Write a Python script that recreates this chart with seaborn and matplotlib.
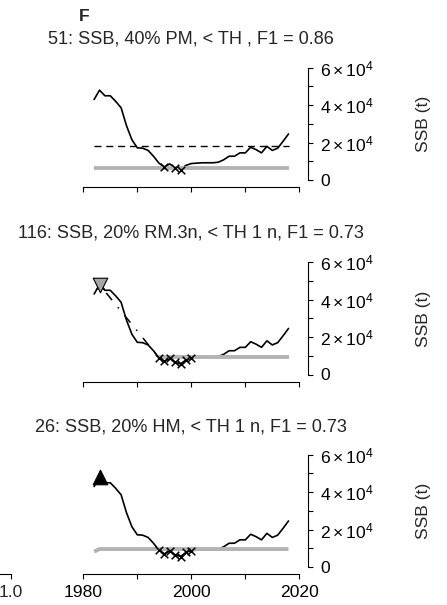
import matplotlib
matplotlib.use("Agg")
import matplotlib.pyplot as plt
import seaborn as sns
import pandas as pd

# Spawning stock biomass series (t)
years = list(range(1982, 2019))
ssb = [43000, 48000, 45000, 45000, 42000, 38600, 29000, 21500, 17200, 17000,
       15800, 12700, 9000, 7000, 8600, 6500, 5600, 7800, 8800, 9000,
       9200, 9200, 9200, 9500, 10800, 12700, 12700, 14500, 14500, 17500,
       16200, 14500, 18000, 15800, 17000, 20700, 24600]

# Panel-specific reference levels and flagged years
panel_titles = ["51: SSB, 40% PM, < TH , F1 = 0.86",
                "116: SSB, 20% RM.3n, < TH 1 n, F1 = 0.73",
                "26: SSB, 20% HM, < TH 1 n, F1 = 0.73"]
ref_level_top = 18400
thresh_top_years = [1982, 2018]
thresh_top = [6600, 6600]
thresh_mid_years = [1994, 2018]
thresh_mid = [9600, 9600]
thresh_bot_years = [1982, 1983, 2018]
thresh_bot = [8200, 9600, 9600]
flag_top = [1995, 1997, 1998]
flag_low = [1994, 1995, 1996, 1997, 1998, 1999, 2000]
peak_year = 1983

y_ticks = [0, 10000, 20000, 30000, 40000, 50000, 60000]
y_ticklabels = ["0", "", r"$2\times10^4$", "", r"$4\times10^4$", "", r"$6\times10^4$"]
x_ticks = [1980, 1990, 2000, 2010, 2020]
x_ticklabels = ["1980", "", "2000", "", "2020"]

sns.set_theme(style="white")
plt.rcParams["font.family"] = ["Liberation Sans", "DejaVu Sans"]
plt.rcParams["mathtext.fontset"] = "custom"
plt.rcParams["mathtext.rm"] = "Liberation Sans"
plt.rcParams["mathtext.it"] = "Liberation Sans:italic"
plt.rcParams["mathtext.bf"] = "Liberation Sans:bold"

W, H = 447, 605
FS = 12.6
FS_TITLE = 13.1
fig = plt.figure(figsize=(W / 100, H / 100), dpi=100)

df = pd.DataFrame({"year": years, "ssb": ssb})
ssb_of = dict(zip(years, ssb))

X0, X1 = 1978.4, 2021.6
PX_L, PX_R = 74.66, 307.94
YMIN, YMAX = -4000, 64000
PX_PER_UNIT = 112.3 / 60000


def make_axes(zero_px):
    bottom_px = zero_px - YMIN * PX_PER_UNIT
    top_px = zero_px - YMAX * PX_PER_UNIT
    ax = fig.add_axes([PX_L / W, 1 - bottom_px / H, (PX_R - PX_L) / W,
                       (bottom_px - top_px) / H])
    fig.text(423.3 / W, 1 - (zero_px - 30000 * PX_PER_UNIT) / H, "SSB (t)",
             rotation=90, ha="center", va="center", fontsize=FS)
    return ax


def style_axes(ax):
    ax.set_xlim(X0, X1)
    ax.set_ylim(YMIN, YMAX)
    ax.patch.set_alpha(0)
    for s in ("left", "top"):
        ax.spines[s].set_visible(False)
    for s in ("right", "bottom"):
        ax.spines[s].set_color("black")
        ax.spines[s].set_linewidth(0.8)
    ax.spines["right"].set_bounds(0, 60000)
    ax.spines["bottom"].set_bounds(1980, 2020)
    ax.yaxis.tick_right()
    ax.set_yticks(y_ticks)
    ax.set_yticklabels(y_ticklabels)
    ax.set_xticks(x_ticks)
    ax.tick_params(axis="x", bottom=True, top=False)
    ax.tick_params(axis="y", right=True, left=False)
    ax.tick_params(axis="both", direction="out", length=3.8, width=0.8,
                   color="black", labelsize=FS, labelcolor="black")
    ax.tick_params(axis="y", pad=5)
    ax.tick_params(axis="x", pad=3.5)
    ax.set_xlabel("")
    ax.set_ylabel("")
    leg = ax.get_legend()
    if leg is not None:
        leg.remove()


def ssb_line(ax):
    sns.lineplot(data=df, x="year", y="ssb", ax=ax, color="black",
                 linewidth=1.2, zorder=2)


def thresh_line(ax, yrs, vals):
    sns.lineplot(x=yrs, y=vals, ax=ax, color="#b3b3b3", linewidth=2.8,
                 zorder=3, solid_capstyle="butt")


def flags(ax, yrs):
    sns.scatterplot(x=yrs, y=[ssb_of[y] for y in yrs], ax=ax, marker="x",
                    color="black", s=30, linewidth=1.1, zorder=4)


def title(text, baseline_px):
    fig.text(PX_L / W + (PX_R - PX_L) / 2 / W, 1 - baseline_px / H, text,
             ha="center", va="baseline", fontsize=FS_TITLE)


# Top panel
ax1 = make_axes(180.0)
ssb_line(ax1)
sns.lineplot(x=[years[0], years[-1]], y=[ref_level_top, ref_level_top], ax=ax1,
             color="black", linewidth=1.0, linestyle=(0, (5, 3.5)), zorder=2)
thresh_line(ax1, thresh_top_years, thresh_top)
flags(ax1, flag_top)
style_axes(ax1)
ax1.set_xticklabels([""] * len(x_ticks))
title(panel_titles[0], 43.5)
fig.text(79 / W, 1 - 20.7 / H, "F", ha="left", va="baseline", fontsize=FS,
         fontweight="bold")

# Middle panel
ax2 = make_axes(374.5)
ssb_line(ax2)
sns.lineplot(x=[peak_year, flag_low[0]], y=[ssb_of[peak_year], ssb_of[flag_low[0]]],
             ax=ax2, color="black", linewidth=1.1, linestyle=(0, (1, 6, 6, 6)),
             zorder=2)
thresh_line(ax2, thresh_mid_years, thresh_mid)
flags(ax2, [peak_year] + flag_low)
sns.scatterplot(x=[peak_year], y=[ssb_of[peak_year]], ax=ax2, marker="v",
                color="#a6a6a6", edgecolor="black", linewidth=0.8, s=110, zorder=5)
style_axes(ax2)
ax2.set_xticklabels([""] * len(x_ticks))
title(panel_titles[1], 237.3)

# Bottom panel
ax3 = make_axes(567.0)
ssb_line(ax3)
thresh_line(ax3, thresh_bot_years, thresh_bot)
flags(ax3, flag_low)
sns.scatterplot(x=[peak_year], y=[ssb_of[peak_year]], ax=ax3, marker="^",
                color="black", edgecolor="black", linewidth=0.8, s=110, zorder=5)
style_axes(ax3)
ax3.set_xticklabels(x_ticklabels)
title(panel_titles[2], 431.7)

# Edge of the neighbouring panel on the left
pos = ax3.get_position()
axl = fig.add_axes([-200 / W, pos.y0, 219 / W, pos.height])
axl.set_xlim(-0.04, 1.04)
axl.set_ylim(0, 1)
axl.patch.set_alpha(0)
for s in ("left", "top", "right"):
    axl.spines[s].set_visible(False)
axl.spines["bottom"].set_color("black")
axl.spines["bottom"].set_linewidth(0.8)
axl.spines["bottom"].set_bounds(0, 1.0)
axl.set_yticks([])
axl.set_xticks([1.0])
axl.set_xticklabels(["1.0"])
axl.tick_params(axis="x", bottom=True, direction="out", length=3.8, width=0.8,
                color="black", labelsize=FS, pad=3.5)

fig.savefig("out.png", dpi=100)
